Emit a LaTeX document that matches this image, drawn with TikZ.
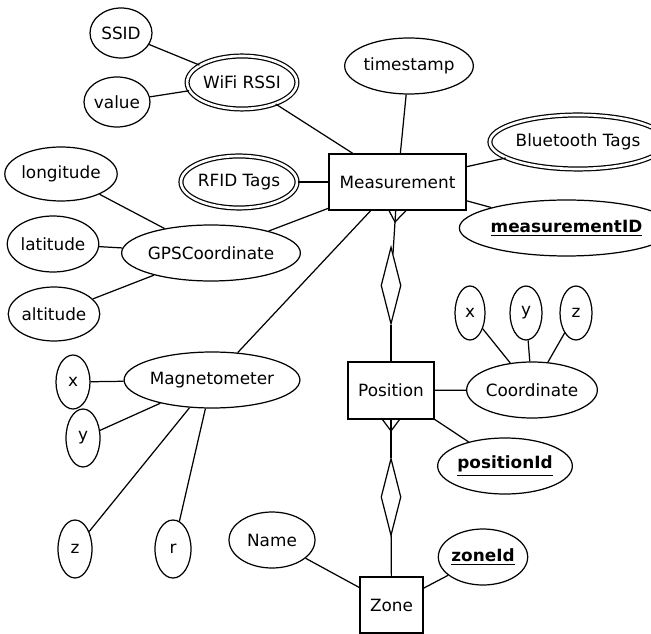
\documentclass[tikz,border=0pt]{standalone}
\usepackage{fontspec}
\setmainfont{DejaVu Sans}
\usetikzlibrary{shapes.geometric}

\begin{document}
\begin{tikzpicture}[x=0.02cm,y=-0.02cm,line width=0.7pt,
		font=\fontsize{9.6}{11}\selectfont,
		ent/.style={draw,rectangle,inner sep=0pt},
		attr/.style={draw,ellipse,inner sep=0pt},
		multi/.style={attr,double,double distance=1.5pt},
		rel/.style={draw,diamond,inner sep=0pt,minimum width=0.4cm,minimum height=1.54cm}]
		\useasboundingbox (0,0) rectangle (651,634);
		% entities
		\node[ent,minimum width=2.74cm,minimum height=1.12cm] (meas) at (397.5,182) {Measurement};
		\node[ent,minimum width=1.72cm,minimum height=1.14cm] (pos) at (391,390.5) {Position};
		\node[ent,minimum width=1.26cm,minimum height=1.12cm] (zone) at (391.5,605) {Zone};
		\node[rel] (mrel) at (391,285.5) {};
		\node[rel] (zrel) at (391,497) {};
		
		% attributes of Measurement
		\node[multi,minimum width=1.92cm,minimum height=1.06cm] (wifi) at (242,82.5) {WiFi RSSI};
		\node[attr,minimum width=1.24cm,minimum height=1cm] (ssid) at (121,33) {SSID};
		\node[attr,minimum width=1.32cm,minimum height=1cm] (val) at (117,102) {value};
		\node[attr,minimum width=2.2cm,minimum height=1.12cm] (time) at (409,66) {timestamp};
		\node[multi,minimum width=2.78cm,minimum height=1.08cm] (blue) at (578,142) {Bluetooth Tags};
		\node[attr,minimum width=3.26cm,minimum height=1.12cm] (mid) at (566.5,228) {\underline{\textbf{measurementID}}};
		\node[multi,minimum width=1.96cm,minimum height=1.04cm] (rfid) at (239,182) {RFID Tags};
		\node[attr,minimum width=2.96cm,minimum height=1.12cm] (gps) at (211,253) {GPSCoordinate};
		\node[attr,minimum width=2.04cm,minimum height=1.08cm] (lon) at (61,174) {longitude};
		\node[attr,minimum width=1.72cm,minimum height=1.12cm] (lat) at (53,244) {latitude};
		\node[attr,minimum width=1.72cm,minimum height=1.08cm] (alt) at (54,314) {altitude};
		\node[attr,minimum width=2.96cm,minimum height=1.12cm] (mag) at (212,380) {Magnetometer};
		\node[attr,minimum width=0.68cm,minimum height=1.08cm] (mx) at (73,382) {x};
		\node[attr,minimum width=0.68cm,minimum height=1.16cm] (my) at (83,438) {y};
		\node[attr,minimum width=0.68cm,minimum height=1.16cm] (mz) at (75,549) {z};
		\node[attr,minimum width=0.72cm,minimum height=1.16cm] (mr) at (173,549) {r};
		
		% attributes of Position
		\node[attr,minimum width=2.28cm,minimum height=1.12cm] (coord) at (532,390) {Coordinate};
		\node[attr,minimum width=0.6cm,minimum height=1.08cm] (cx) at (470,313) {x};
		\node[attr,minimum width=0.64cm,minimum height=1.08cm] (cy) at (526,313) {y};
		\node[attr,minimum width=0.64cm,minimum height=1.08cm] (cz) at (576,313) {z};
		\node[attr,minimum width=2.48cm,minimum height=1.12cm] (pid) at (505,466) {\underline{\textbf{positionId}}};
		
		% attributes of Zone
		\node[attr,minimum width=1.72cm,minimum height=1.12cm] (name) at (272,540) {Name};
		\node[attr,minimum width=1.6cm,minimum height=1.12cm] (zid) at (483,557) {\underline{\textbf{zoneId}}};
		
		% connections
		\draw (ssid) -- (wifi);
		\draw (val) -- (wifi);
		\draw (wifi) -- (meas);
		\draw (time) -- (meas);
		\draw (blue) -- (meas);
		\draw (mid) -- (meas);
		\draw (rfid) -- (meas);
		\draw (gps) -- (meas);
		\draw (mag) -- (meas);
		\draw (lon) -- (gps);
		\draw (lat) -- (gps);
		\draw (alt) -- (gps);
		\draw (mx) -- (mag);
		\draw (my) -- (mag);
		\draw (mz) -- (mag);
		\draw (mr) -- (mag);
		\draw (pos) -- (coord);
		\draw (cx) -- (coord);
		\draw (cy) -- (coord);
		\draw (cz) -- (coord);
		\draw (pos) -- (pid);
		\draw (zone) -- (name);
		\draw (zone) -- (zid);
		
		% relationships with crow's feet
		\coordinate (mfoot) at (395,222);
		\coordinate (pfoot) at (391,431);
		\draw (meas) -- (mrel);
		\draw ([xshift=-0.17cm]meas.south) -- (mfoot) -- ([xshift=0.17cm]meas.south);
		\draw (mrel) -- (pos);
		\draw (pos) -- (zrel);
		\draw ([xshift=-0.17cm]pos.south) -- (pfoot) -- ([xshift=0.17cm]pos.south);
		\draw (zrel) -- (zone);
\end{tikzpicture}
\end{document}
